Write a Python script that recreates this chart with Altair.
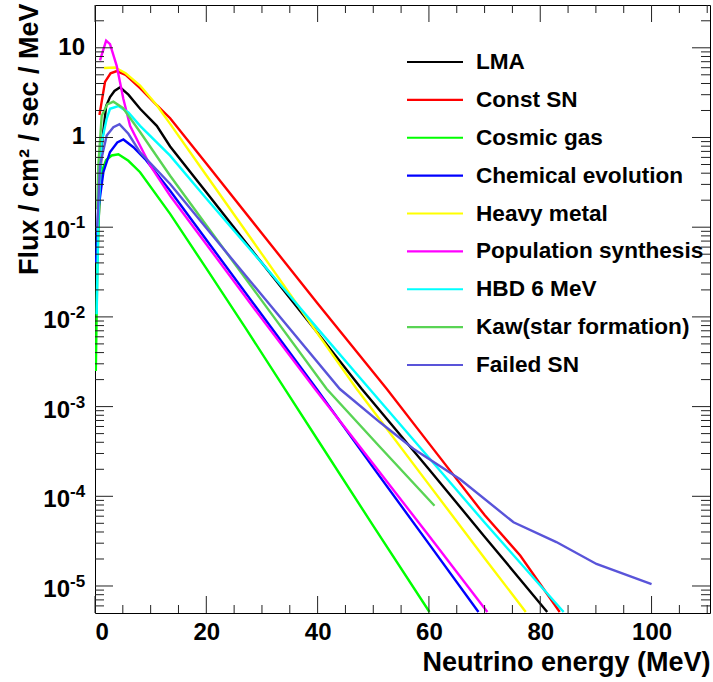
import altair as alt
import pandas as pd

FONT = "Liberation Sans"

series_names = ["LMA", "Const SN", "Cosmic gas", "Chemical evolution", "Heavy metal",
                "Population synthesis", "HBD 6 MeV", "Kaw(star formation)", "Failed SN"]
series_colors = ["#000000", "#ff0000", "#00ff00", "#0000ff", "#ffff00",
                 "#ff00ff", "#00ffff", "#59d454", "#5954d9"]

# energies (MeV) and fluxes (/cm2/sec/MeV)
lma_e = [0.6, 1.2, 2.0, 2.7, 3.5, 4.5, 6.0, 8.1, 11.1, 13.5, 20, 30, 40, 47.9, 60, 70, 81.25]
lma_f = [0.1, 0.794, 2.24, 2.82, 3.3, 3.63, 3.0, 2.09, 1.35, 0.794, 0.245, 0.0398, 0.00661, 0.00158, 2.0e-4, 3.55e-5, 5.13e-6]

const_e = [0.8, 1.8, 2.8, 3.9, 5.5, 8.1, 11.1, 13.5, 20, 30, 40, 52.4, 60, 70, 76.4, 83.5]
const_f = [1.78, 4.17, 5.2, 5.5, 5.0, 3.55, 2.29, 1.64, 0.513, 0.0851, 0.0141, 1.58e-3, 3.89e-4, 6.17e-5, 2.19e-5, 5.13e-6]

cosmic_e = [0.15, 0.4, 0.9, 2.0, 3.0, 4.2, 6.0, 8.1, 13.5, 20, 27, 34.1, 40, 50, 60.1]
cosmic_f = [2.5e-3, 0.0316, 0.37, 0.56, 0.63, 0.65, 0.55, 0.41, 0.141, 0.0347, 7.6e-3, 1.58e-3, 4.27e-4, 4.68e-5, 5.13e-6]

chem_e = [0.2, 0.6, 1.5, 2.7, 4.0, 5.1, 6.9, 9.0, 13.5, 20, 30, 39.8, 50, 60, 68.9]
chem_f = [0.04, 0.158, 0.41, 0.69, 0.88, 0.95, 0.78, 0.575, 0.255, 0.0724, 0.0105, 1.58e-3, 2.09e-4, 2.95e-5, 5.13e-6]

heavy_e = [1.6, 3.6, 5.5, 8.1, 11.1, 13.5, 20, 30, 40, 47.0, 60, 70, 77.4]
heavy_f = [5.96, 6.03, 5.2, 3.8, 2.29, 1.42, 0.38, 0.0501, 6.5e-3, 1.58e-3, 1.35e-4, 2.04e-5, 5.13e-6]

pop_e = [0.9, 2.0, 2.7, 3.9, 5.1, 6.3, 8.1, 9.9, 13.5, 20, 30, 39.5, 50, 60, 70.5]
pop_f = [7.24, 12.0, 11.0, 6.3, 2.69, 1.35, 0.81, 0.49, 0.224, 0.0646, 9.5e-3, 1.58e-3, 2.29e-4, 3.63e-5, 5.13e-6]

hbd_e = [0.3, 0.6, 1.2, 2.1, 2.7, 4.2, 6.0, 8.1, 13.5, 20, 30, 40, 49.3, 60, 70, 84.2]
hbd_f = [0.0107, 0.126, 0.89, 1.62, 2.09, 2.24, 1.9, 1.35, 0.627, 0.209, 0.0398, 7.4e-3, 1.58e-3, 2.69e-4, 5.1e-5, 5.13e-6]

kaw_e = [0.4, 0.6, 1.2, 2.2, 3.3, 5.0, 8.1, 13.5, 20, 30, 41.6, 51.2, 61.0]
kaw_f = [0.158, 0.49, 1.74, 2.34, 2.51, 2.14, 1.15, 0.375, 0.105, 0.0151, 1.58e-3, 3.55e-4, 7.85e-5]

failed_e = [0.4, 0.9, 2.1, 3.3, 4.4, 6.0, 8.1, 13.5, 20, 30, 44.0, 51.2, 57.2, 65.6, 75.2, 82.9, 90.1, 100]
failed_f = [0.1, 0.49, 1.05, 1.3, 1.41, 1.1, 0.684, 0.303, 0.0977, 0.0174, 1.57e-3, 6.68e-4, 3.39e-4, 1.55e-4, 5.13e-5, 3.09e-5, 1.76e-5, 1.05e-5]

series_e = [lma_e, const_e, cosmic_e, chem_e, heavy_e, pop_e, hbd_e, kaw_e, failed_e]
series_f = [lma_f, const_f, cosmic_f, chem_f, heavy_f, pop_f, hbd_f, kaw_f, failed_f]

# axis ticks and tick labels
x_label_values = [0, 20, 40, 60, 80, 100]
x_minor_ticks = [5, 10, 15, 25, 30, 35, 45, 50, 55, 65, 70, 75, 85, 90, 95, 105, 110]
y_label_values = [1e-5, 1e-4, 1e-3, 1e-2, 1e-1, 1, 10]
y_label_base = ["10", "10", "10", "10", "10", "1", "10"]
y_label_exp = ["-5", "-4", "-3", "-2", "-1", "", ""]
y_minor_ticks = [m * 10.0 ** e for e in range(-6, 2) for m in range(2, 10)
                 if 5e-6 < m * 10.0 ** e < 30]

W, H = 615, 608
x_dom = [0, 110.5]
y_dom = [5e-6, 30]

rows = []
for name, es, fs in zip(series_names, series_e, series_f):
    for i, (e, f) in enumerate(zip(es, fs)):
        rows.append({"series": name, "E": e, "flux": f, "i": i})
df = pd.DataFrame(rows)

xscale = alt.Scale(domain=x_dom, nice=False, zero=False)
yscale = alt.Scale(type="log", domain=y_dom, nice=False)
cscale = alt.Scale(domain=series_names, range=series_colors)

x_axis = alt.Axis(orient="bottom", values=x_label_values, title="Neutrino energy (MeV)", ticks=False,
                  domain=False, grid=False, labelFont=FONT, labelFontSize=24,
                  labelFontWeight="bold", labelColor="#000", labelPadding=7,
                  titleFont=FONT, titleFontSize=27, titleFontWeight="bold",
                  titleColor="#000", titleX=W, titleY=57, titleAlign="right",
                  titleBaseline="alphabetic")

y_axis = alt.Axis(orient="left", values=y_label_values, labels=False,
                  title="Flux / cm\u00b2 / sec / MeV", ticks=False, domain=False,
                  grid=False, titleFont=FONT,
                  titleFontSize=27, titleFontWeight="bold", titleColor="#000",
                  titleX=-58, titleY=-2, titleAngle=-90, titleAlign="right",
                  titleBaseline="alphabetic")

lines = alt.Chart(df).mark_line(strokeWidth=2.4, clip=True).encode(
    x=alt.X("E:Q", scale=xscale, axis=x_axis),
    y=alt.Y("flux:Q", scale=yscale, axis=y_axis),
    color=alt.Color("series:N", scale=cscale, legend=None),
    order="i:Q",
)

tick_color = "#222"


def xticks(vals, y0, y1):
    return alt.Chart(pd.DataFrame({"v": vals})).mark_rule(color=tick_color, strokeWidth=1).encode(
        x=alt.X("v:Q", scale=xscale, axis=x_axis), y=alt.value(y0), y2=alt.value(y1))


def yticks(vals, x0, x1):
    return alt.Chart(pd.DataFrame({"v": vals})).mark_rule(color=tick_color, strokeWidth=1).encode(
        y=alt.Y("v:Q", scale=yscale, axis=None), x=alt.value(x0), x2=alt.value(x1))


tick_layers = [
    xticks(x_label_values, H, H - 17), xticks(x_minor_ticks, H, H - 8),
    xticks(x_label_values, 0, 17), xticks(x_minor_ticks, 0, 8),
    yticks(y_label_values, 0, 18), yticks(y_minor_ticks, 0, 9),
    yticks(y_label_values, W, W - 18), yticks(y_minor_ticks, W, W - 9),
]

# y tick labels as 10 with a raised exponent
ylab = pd.DataFrame({"v": y_label_values, "base": y_label_base, "exp": y_label_exp})
ylab_plain = alt.Chart(ylab).transform_filter("datum.exp == ''").mark_text(
    align="right", baseline="middle", font=FONT, fontSize=24, fontWeight="bold", color="#000"
).encode(y=alt.Y("v:Q", scale=yscale, axis=None), x=alt.value(-10), text="base:N")
ylab_base = alt.Chart(ylab).transform_filter("datum.exp != ''").mark_text(
    align="right", baseline="middle", font=FONT, fontSize=24, fontWeight="bold", color="#000", dy=4
).encode(y=alt.Y("v:Q", scale=yscale, axis=None), x=alt.value(-25), text="base:N")
ylab_exp = alt.Chart(ylab).transform_filter("datum.exp != ''").mark_text(
    align="left", baseline="middle", font=FONT, fontSize=17, fontWeight="bold", color="#000", dy=-4
).encode(y=alt.Y("v:Q", scale=yscale, axis=None), x=alt.value(-25), text="exp:N")

leg_df = pd.DataFrame({"series": series_names})
leg_y = alt.Y("series:N", scale=alt.Scale(type="point", domain=series_names, range=[57, 360], padding=0),
              axis=None)
leg_lines = alt.Chart(leg_df).mark_rule(strokeWidth=2.2).encode(
    y=leg_y, x=alt.value(312), x2=alt.value(368),
    color=alt.Color("series:N", scale=cscale, legend=None))
leg_text = alt.Chart(leg_df).mark_text(align="left", baseline="middle", font=FONT, fontSize=22.6,
                                       fontWeight="bold", color="#000").encode(
    y=leg_y, x=alt.value(381), text="series:N")

chart = alt.layer(lines, *tick_layers, ylab_plain, ylab_base, ylab_exp, leg_lines, leg_text).resolve_scale(
    y="independent"
).resolve_axis(x="shared").properties(
    width=W, height=H, autosize="none",
    padding={"left": 95, "top": 5, "right": 3, "bottom": 69},
    background="white",
).configure_view(stroke="#000", strokeWidth=1)

chart.save("out.html", embed_options={"renderer": "svg", "actions": False})
